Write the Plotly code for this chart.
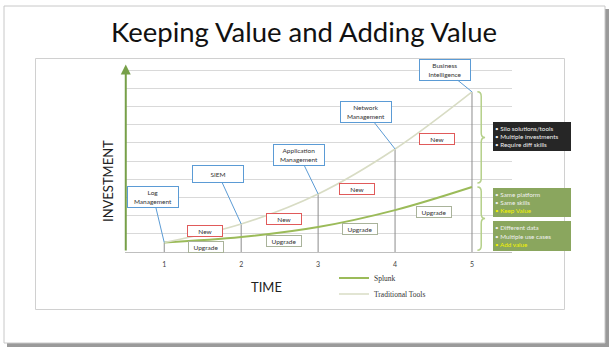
import plotly.graph_objects as go

# ---------------- data ----------------
time = [1, 2, 3, 4, 5]
splunk = [0.52, 0.82, 1.37, 2.30, 3.57]
traditional = [0.52, 1.54, 3.19, 5.66, 8.80]
tick_labels = ["1", "2", "3", "4", "5"]

callout_labels = ["Log<br>Management", "SIEM", "Application<br>Management",
                  "Network<br>Management", "Business<br>Intelligence"]

new_label = "New"
upgrade_label = "Upgrade"

silo_lines = ["Silo solutions/tools", "Multiple investments", "Require diff skills"]
keep_lines = ["Same platform", "Same skills", "Keep Value"]
add_lines = ["Different data", "Multiple use cases", "Add value"]

# ---------------- layout helpers (pixels in a 615x356 figure) ----------------
W, H = 615, 356
px = lambda x: x / W
py = lambda y: 1 - y / H

FONT = "Lato, Calibri, 'Open Sans', sans-serif"
SPL_COLOR = "#9bbb59"
TRAD_COLOR = "#d8dcc4"
BLUE = "#5b9bd5"
RED = "#e05a5a"
GREY_BOX = "#a9b39a"

fig = go.Figure()

# drop lines from the axis to the traditional-tools curve
dx, dy = [], []
for t, v in zip(time, traditional):
    dx += [t, t, None]
    dy += [0, v, None]
fig.add_trace(go.Scatter(x=dx, y=dy, mode="lines", line=dict(color="#8c8c8c", width=1),
                         showlegend=False, hoverinfo="skip"))

fig.add_trace(go.Scatter(x=time, y=splunk, mode="lines", name="Splunk", legend="legend",
                         line=dict(color=SPL_COLOR, width=2, shape="spline")))
fig.add_trace(go.Scatter(x=time, y=traditional, mode="lines", name="Traditional Tools",
                         legend="legend2",
                         line=dict(color=TRAD_COLOR, width=1.6, shape="spline")))

annotations = []

# title
annotations.append(dict(text="Keeping Value and Adding Value", x=px(304), y=py(31),
                        xref="paper", yref="paper", showarrow=False,
                        font=dict(family=FONT, size=27.5, color="#111111"),
                        xanchor="center", yanchor="middle"))

# axis titles
annotations.append(dict(text="INVESTMENT", x=px(108), y=py(181), xref="paper", yref="paper",
                        showarrow=False, textangle=-90, xanchor="center", yanchor="middle",
                        font=dict(family=FONT, size=13, color="#222222")))
annotations.append(dict(text="TIME", x=px(266), y=py(287), xref="paper", yref="paper",
                        showarrow=False, xanchor="center", yanchor="middle",
                        font=dict(family=FONT, size=13, color="#222222")))

# green y-axis arrow
annotations.append(dict(x=0.5, y=10.3, ax=0.5, ay=0, xref="x", yref="y", axref="x", ayref="y",
                        showarrow=True, arrowhead=2, arrowsize=1, arrowwidth=2,
                        arrowcolor="#77a049", text=""))

# callouts pointing to the traditional-tools points
callout_offsets = [(-11, -46), (-23, -50), (-19, -39), (-29, -37), (-27, -22)]
callout_heights = [18, 14, 18, 18, 18]
for t, v, lab, (ox, oy), h in zip(time, traditional, callout_labels, callout_offsets, callout_heights):
    annotations.append(dict(x=t, y=v, xref="x", yref="y", text=lab, showarrow=True,
                            ax=ox, ay=oy, arrowhead=0, arrowwidth=1, arrowcolor=BLUE,
                            bordercolor=BLUE, borderwidth=1, borderpad=1, bgcolor="white",
                            width=48, height=h,
                            font=dict(family=FONT, size=6.5, color="#333333")))

# "New" and "Upgrade" labels
new_pos = [(1.53, 1.15), (2.56, 1.79), (3.51, 3.46), (4.54, 6.21)]
upg_pos = [(1.54, 0.30), (2.56, 0.58), (3.54, 1.24), (4.51, 2.20)]
for (x, y) in new_pos:
    annotations.append(dict(x=x, y=y, xref="x", yref="y", text=new_label, showarrow=False,
                            bordercolor=RED, borderwidth=1, borderpad=1, bgcolor="white",
                            width=32, height=8,
                            font=dict(family=FONT, size=6.5, color="#333333")))
for (x, y) in upg_pos:
    annotations.append(dict(x=x, y=y, xref="x", yref="y", text=upgrade_label, showarrow=False,
                            bordercolor=GREY_BOX, borderwidth=1, borderpad=1, bgcolor="white",
                            width=32, height=8,
                            font=dict(family=FONT, size=6.5, color="#333333")))


def bullets(lines, highlight_last=False):
    out = []
    for i, l in enumerate(lines):
        if highlight_last and i == len(lines) - 1:
            out.append("<span style='color:#f2f200'>• " + l + "</span>")
        else:
            out.append("• " + l)
    return "<br>".join(out)


right_boxes = [
    (silo_lines, False, "#262626", 122, 151),
    (keep_lines, True, "#8aa65e", 188, 217),
    (add_lines, True, "#8aa65e", 221, 251),
]
for lines, hl, bg, y0, y1 in right_boxes:
    annotations.append(dict(x=px(493), y=py((y0 + y1) / 2), xref="paper", yref="paper",
                            xanchor="left", yanchor="middle", align="left", valign="middle",
                            text=bullets(lines, hl), showarrow=False, bgcolor=bg,
                            borderpad=2, borderwidth=0, width=74, height=y1 - y0 - 4,
                            font=dict(family=FONT, size=6.3, color="#f0f0f0")))

# ---------------- shapes ----------------
shapes = [
    # slide shadow + slide
    dict(type="rect", xref="paper", yref="paper", x0=px(7), x1=px(609), y0=py(347), y1=py(9),
         fillcolor="#9a9a9a", line=dict(width=0), layer="below"),
    dict(type="rect", xref="paper", yref="paper", x0=px(4), x1=px(605), y0=py(343), y1=py(6),
         fillcolor="white", line=dict(color="#c8c8c8", width=1), layer="below"),
    # inner chart frame
    dict(type="rect", xref="paper", yref="paper", x0=px(35.5), x1=px(564.5), y0=py(309.5), y1=py(58.5),
         fillcolor="rgba(0,0,0,0)", line=dict(color="#d0d0d0", width=1), layer="below"),
]


def brace(ytop, ybot, x0=5.07, xb=5.12, xt=5.17, d=0.25):
    ym = (ytop + ybot) / 2
    return (f"M {x0},{ytop} Q {xb},{ytop} {xb},{ytop - d} L {xb},{ym + d} "
            f"Q {xb},{ym} {xt},{ym} Q {xb},{ym} {xb},{ym - d} L {xb},{ybot + d} "
            f"Q {xb},{ybot} {x0},{ybot}")


shapes.append(dict(type="path", xref="x", yref="y", path=brace(traditional[-1], splunk[-1] + 0.22),
                   line=dict(color="#b5d08a", width=1.5)))
shapes.append(dict(type="path", xref="x", yref="y", path=brace(splunk[-1], 0.1),
                   line=dict(color="#b5d08a", width=1.5)))

legend_style = dict(xanchor="left", yanchor="middle", bgcolor="rgba(0,0,0,0)",
                    font=dict(family="'Liberation Serif', serif", size=7.5, color="#333333"),
                    itemwidth=30)

fig.update_layout(
    width=W, height=H,
    margin=dict(l=0, r=0, t=0, b=0),
    paper_bgcolor="white", plot_bgcolor="rgba(0,0,0,0)",
    font=dict(family=FONT),
    xaxis=dict(domain=[px(125), px(512)], range=[0.49, 5.52], tickvals=time, ticktext=tick_labels,
               showgrid=False, zeroline=False, showline=False, ticks="", ticklabelstandoff=7,
               tickfont=dict(family=FONT, size=7, color="#444444"), fixedrange=True),
    yaxis=dict(domain=[py(252), py(64)], range=[0, 10.33], dtick=1, tick0=0, showticklabels=False,
               showgrid=True, gridcolor="#d9d9d9", gridwidth=1, zeroline=True,
               zerolinecolor="#bfbfbf", zerolinewidth=1, ticks="", fixedrange=True),
    showlegend=True,
    legend=dict(x=px(334), y=py(278), **legend_style),
    legend2=dict(x=px(334), y=py(294), **legend_style),
    annotations=annotations,
    shapes=shapes,
)

fig.write_html("out.html", config={"displayModeBar": False},
               post_script="document.body.style.margin='0';")
